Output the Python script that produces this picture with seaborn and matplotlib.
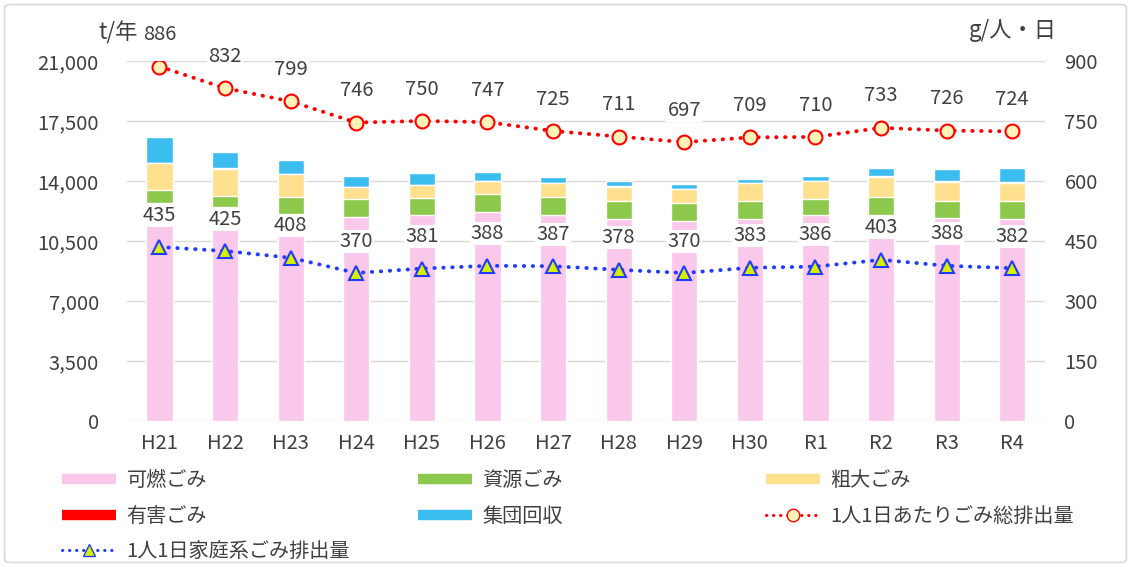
import numpy as np
import matplotlib
matplotlib.use("Agg")
import matplotlib.pyplot as plt
from matplotlib.lines import Line2D
from matplotlib.patches import FancyBboxPatch
import seaborn as sns

# data (t/year and g/person/day)
years = ["H21", "H22", "H23", "H24", "H25", "H26", "H27", "H28", "H29", "H30", "R1", "R2", "R3", "R4"]
burnable = [12700, 12470, 12060, 11880, 12020, 12180, 12020, 11780, 11690, 11780, 12020, 12020, 11820, 11780]
resource = [760, 660, 990, 1090, 1010, 1050, 1030, 1070, 1010, 1050, 930, 1030, 1030, 1050]
bulky = [1580, 1580, 1360, 660, 740, 740, 820, 820, 820, 1030, 1050, 1200, 1110, 1070]
hazardous = [20, 20, 20, 20, 20, 20, 20, 20, 20, 20, 20, 20, 20, 20]
group_collect = [1520, 970, 820, 620, 680, 545, 330, 330, 290, 250, 250, 490, 720, 840]
total_per_capita = [886, 832, 799, 746, 750, 747, 725, 711, 697, 709, 710, 733, 726, 724]
household_per_capita = [435, 425, 408, 370, 381, 388, 387, 378, 370, 383, 386, 403, 388, 382]

C_PINK = "#f9c8ea"
C_GREEN = "#8cc84b"
C_YELLOW = "#ffe08f"
C_RED = "#ff0000"
C_BLUE = "#3cbdf0"
TXT = "#404040"
FS = 14.5

sns.set_theme(style="white")
plt.rcParams["font.family"] = ["Noto Sans CJK JP", "DejaVu Sans"]

fig = plt.figure(figsize=(11.31, 5.67), dpi=100)
ax = fig.add_axes([0.112, 0.2575, 0.812, 0.635])

# stacked bars: draw cumulative heights from the top layer down
layers = [burnable, resource, bulky, hazardous, group_collect]
colors = [C_PINK, C_GREEN, C_YELLOW, C_RED, C_BLUE]
cum = np.cumsum(np.array(layers), axis=0)
for k in range(len(layers) - 1, -1, -1):
    sns.barplot(x=years, y=cum[k], color=colors[k], width=0.4, saturation=1,
                errorbar=None, ax=ax, zorder=2)

ax.set_xlim(-0.5, len(years) - 0.5)
ax.set_ylim(0, 21000)
ax.set_yticks(np.arange(0, 21001, 3500))
ax.set_yticklabels([f"{v:,}" for v in range(0, 21001, 3500)])
ax.grid(axis="y", color="#d9d9d9", linewidth=1, zorder=0)
ax.set_axisbelow(True)
ax.set_xlabel("")
ax.set_ylabel("")
ax.tick_params(axis="y", length=0, pad=20, labelsize=FS, labelcolor=TXT)
ax.tick_params(axis="x", length=0, pad=9, labelsize=FS, labelcolor=TXT)
for s in ax.spines.values():
    s.set_visible(False)

# per-capita lines on right axis
ax2 = ax.twinx()
xpos = np.arange(len(years))
dot = (0, (0.1, 2.2))
sns.lineplot(x=xpos, y=total_per_capita, ax=ax2, color=C_RED, linewidth=2.8,
             linestyle=dot, dash_capstyle="round", marker="o", markersize=10,
             markerfacecolor="#fff4b8", markeredgecolor=C_RED, markeredgewidth=1.5)
sns.lineplot(x=xpos, y=household_per_capita, ax=ax2, color="#1f3cff", linewidth=2.8,
             linestyle=dot, dash_capstyle="round", marker="^", markersize=10,
             markerfacecolor="#d8f000", markeredgecolor="#1f3cff", markeredgewidth=1.5)
ax2.set_ylim(0, 900)
ax2.set_yticks(np.arange(0, 901, 150))
ax2.set_xlim(-0.5, len(years) - 0.5)
ax2.set_xlabel("")
ax2.set_ylabel("")
ax2.tick_params(axis="y", length=0, pad=14, labelsize=FS, labelcolor=TXT)
ax2.grid(False)
for s in ax2.spines.values():
    s.set_visible(False)

for series in (total_per_capita, household_per_capita):
    for i, v in enumerate(series):
        ax2.annotate(f"{v}", (i, v), xytext=(0, 23), textcoords="offset points",
                     ha="center", va="center", fontsize=FS, color=TXT,
                     bbox=dict(boxstyle="square,pad=0.05", fc="white", ec="none"))

# unit labels
fig.text(118 / 1131, 1 - 33 / 567, "t/年", ha="center", va="center", fontsize=16, color=TXT)
fig.text(1013 / 1131, 1 - 30 / 567, "g/人・日", ha="center", va="center", fontsize=16, color=TXT)

# legend, three columns placed by hand
def bar_handle(c):
    return Line2D([], [], color=c, linewidth=7.5, solid_capstyle="butt")

h_total = Line2D([], [], color=C_RED, linewidth=2.2, linestyle=dot, dash_capstyle="round",
                 marker="o", markersize=9, markerfacecolor="#fff4b8", markeredgecolor=C_RED)
h_house = Line2D([], [], color="#1f3cff", linewidth=2.2, linestyle=dot, dash_capstyle="round",
                 marker="^", markersize=9, markerfacecolor="#d8f000", markeredgecolor="#1f3cff")

columns = [
    ([bar_handle(C_PINK), bar_handle(C_RED), h_house], ["可燃ごみ", "有害ごみ", "1人1日家庭系ごみ排出量"], 52),
    ([bar_handle(C_GREEN), bar_handle(C_BLUE)], ["資源ごみ", "集団回収"], 408),
    ([bar_handle(C_YELLOW), h_total], ["粗大ごみ", "1人1日あたりごみ総排出量"], 756),
]
for handles, labels, x0 in columns:
    fig.legend(handles, labels, loc="upper left", bbox_to_anchor=(x0 / 1131, 1 - 460 / 567),
               frameon=False, fontsize=FS, handlelength=2.7, handletextpad=0.5,
               labelspacing=0.72, borderpad=0, labelcolor=TXT)

# outer frame
fig.patches.append(FancyBboxPatch((0.004, 0.008), 0.992, 0.984, boxstyle="round,pad=0,rounding_size=0.006",
                                  transform=fig.transFigure, fc="none", ec="#d9d9d9", lw=1.2))

fig.savefig("out.png", dpi=100, facecolor="white")
